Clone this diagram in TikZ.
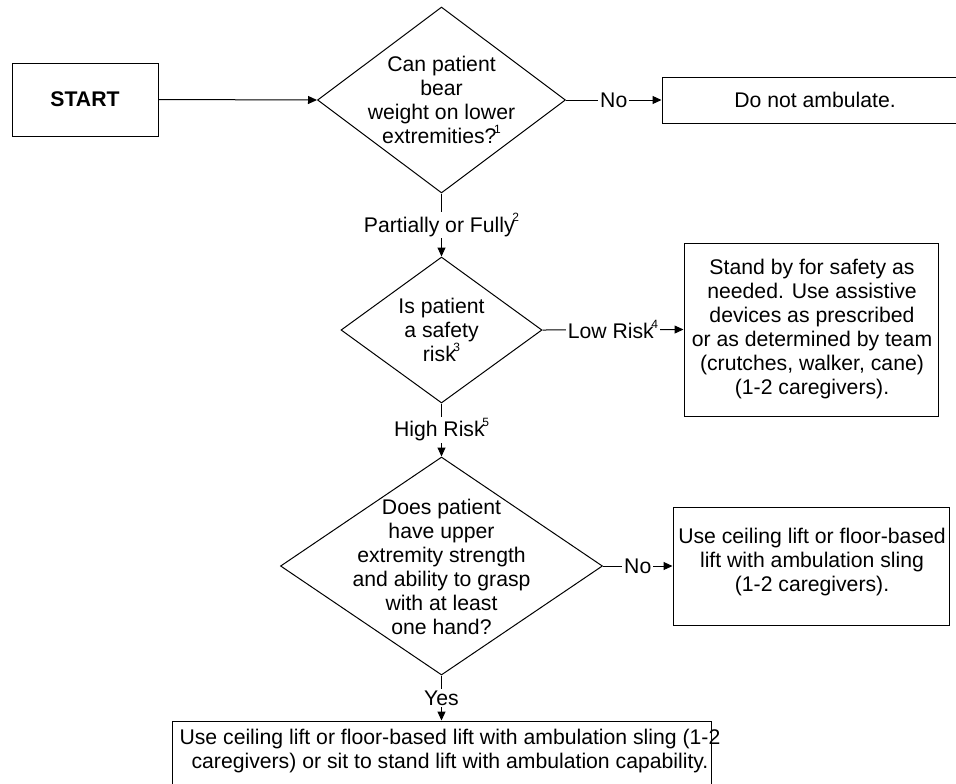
\documentclass[tikz,border=0pt]{standalone}
\usepackage{fontspec}
\setmainfont{Liberation Sans}
\usepackage{tikz}
\usetikzlibrary{shapes}
\usetikzlibrary{shapes.geometric}
\usetikzlibrary{arrows.meta}
\usetikzlibrary{positioning}
\newcommand{\flowfont}{\fontsize{10.6}{12}\selectfont}
\newcommand{\refmark}[1]{\kern-1.2pt\raisebox{0.9ex}{\fontsize{6}{6}\selectfont #1}}

\begin{document}
\begin{tikzpicture}[
  x=0.5pt, y=-0.5pt,
  every node/.style={font=\flowfont},
  dep/.style ={
    -{Triangle[length=4.5pt,width=4pt]}, line width=0.5pt
  },
  box/.style 2 args={
    rectangle,
    draw,
    line width=0.5pt,
    minimum width=#1,
    minimum height=#2,
    inner sep=0pt},
  dec/.style 2 args={
    diamond,
    draw,
    line width=0.5pt,
    minimum width=#1,
    minimum height=#2,
    inner sep=0pt},
  lbl/.style={
    fill=white,
    inner sep=1pt},
]

  \useasboundingbox (0,0) rectangle (956,783);

  \def\midx{441.5}%
  \def\sidex{812}%

        \node[box={73pt}{36.5pt}] (start) at (85, 99.5) {};
        \node at (85, 99.5) {\textbf{START}};

        \node[dec={124pt}{93pt}] (bear) at (\midx, 100) {};
        \node[align=center] at (\midx, 100)
            {Can patient\\bear\\weight on lower\\extremities?\refmark{1}};

        \node[box={153pt}{23pt}] (noamb) at (815, 100) {};
        \node at (815, 100) {Do not ambulate.};

        \node[dec={100.5pt}{73pt}] (risk) at (\midx, 330) {};
        \node[align=center] at (\midx, 330)
            {Is patient\\a safety\\risk\refmark{3}};

        \node[box={127pt}{86.5pt}] (standby) at (811, 329.5) {};
        \node[align=center] at (\sidex, 329.5)
            {Stand by for safety as\\needed. Use assistive\\devices as prescribed\\or as determined by team\\(crutches, walker, cane)\\(1-2 caregivers).};

        \node[dec={161pt}{109pt}] (grasp) at (\midx, 566) {};
        \node[align=center] at (\midx, 567)
            {Does patient\\have upper\\extremity strength\\and ability to grasp\\with at least\\one hand?};

        \node[box={138pt}{59pt}] (sling) at (811, 566) {};
        \node[align=center] at (\sidex, 562)
            {Use ceiling lift or floor-based\\lift with ambulation sling\\(1-2 caregivers).};

        \node[box={269.5pt}{39.5pt}] (sitstand) at (\midx, 760.5) {};
        \node[align=center] at (450, 751)
            {Use ceiling lift or floor-based lift with ambulation sling (1-2\\caregivers) or sit to stand lift with ambulation capability.};


        \draw[dep] (start.east) to (bear.west);
        \draw[dep] (bear.east) -- node[lbl] {No} (noamb.west);
        \draw[dep] (bear.south) -- node[lbl] {Partially or Fully\refmark{2}} (risk.north);
        \draw[dep] (risk.east) -- node[lbl] {Low Risk\refmark{4}} (standby.west);
        \draw[dep] (risk.south) -- node[lbl] {High Risk\refmark{5}} (grasp.north);
        \draw[dep] (grasp.east) -- node[lbl] {No} (sling.west);
        \draw[dep] (grasp.south) -- node[lbl] {Yes} (sitstand.north);

\end{tikzpicture}
\end{document}
